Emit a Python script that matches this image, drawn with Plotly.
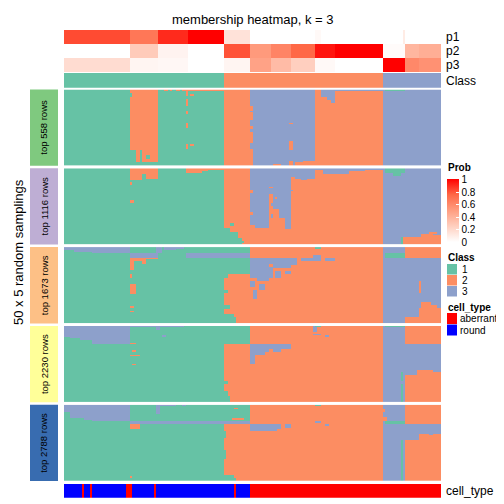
import plotly.graph_objects as go

N = 188
# ---------------- annotation data (run-length: (n_columns, value)) ----------------
p1_runs = [(33, 0.82), (14, 0.68), (15, 0.9), (18, 1.0), (13, 0.15), (32, 0.0), (3, 0.03), (41, 0.0), (1, 0.1), (18, 0.0)]
p2_runs = [(33, 0.0), (14, 0.27), (15, 0.06), (18, 0.0), (13, 0.8), (10, 0.52), (10, 0.62), (12, 0.75), (10, 0.95), (24, 1.0), (11, 0.02), (7, 0.38), (11, 0.42)]
p3_runs = [(33, 0.18), (14, 0.05), (15, 0.04), (18, 0.0), (13, 0.05), (10, 0.48), (10, 0.35), (12, 0.25), (10, 0.03), (24, 0.0), (11, 1.0), (7, 0.6), (11, 0.56)]
class_runs = [(80, 1), (79, 2), (29, 3)]
# cell type: 0 = aberrant, 1 = round
cell_runs = [(9, 1), (1, 0), (3, 1), (1, 0), (17, 1), (3, 0), (11, 1), (1, 0), (39, 1), (1, 0), (7, 1), (95, 0)]

prob_names = ["p1", "p2", "p3"]
class_names = ["1", "2", "3"]
cell_names = ["aberrant", "round"]
panel_names = ["top 558 rows", "top 1116 rows", "top 1673 rows", "top 2230 rows", "top 2788 rows"]
n_samplings = 50

# ---------------- membership panels: base column blocks + patches ----------------
# base: (col_start, col_end, class) ; patches: (col_start, col_end, row_start, row_end, class)
panel_base = [
    [(0, 33, 1), (33, 47, 2), (47, 80, 1), (80, 93, 2), (93, 125, 3), (125, 159, 2), (159, 188, 3)],
    [(0, 80, 1), (80, 93, 2), (93, 113, 3), (113, 159, 2), (159, 188, 3)],
    [(0, 80, 1), (80, 93, 2), (93, 159, 2), (159, 170, 3), (170, 188, 2)],
    [(0, 80, 1), (80, 93, 2), (93, 159, 2), (159, 170, 3), (170, 188, 2)],
    [(0, 80, 1), (80, 93, 2), (93, 159, 2), (159, 170, 3), (170, 188, 2)],
]
panel_patches = [
    [  # top 558
        (33, 36, 40, 50, 1), (38, 39, 40, 50, 1), (35, 47, 48, 50, 1), (41, 43, 43, 46, 1), (33, 34, 2, 5, 1),
        (50, 52, 0, 1, 2), (53, 54, 0, 1, 2), (56, 58, 0, 1, 2), (59, 80, 0, 1, 2),
        (61, 62, 0, 4, 2), (61, 62, 6, 11, 2), (61, 62, 14, 16, 2), (61, 62, 22, 25, 2), (61, 62, 36, 39, 2),
        (63, 65, 3, 4, 2), (63, 65, 36, 37, 2),
        (93, 94, 11, 14, 2), (93, 94, 15, 20, 2), (93, 94, 24, 26, 2), (93, 94, 28, 35, 2), (93, 94, 39, 50, 2),
        (112, 114, 22, 23, 2), (112, 114, 34, 40, 2), (112, 114, 47, 50, 2),
        (104, 108, 49, 50, 2), (115, 119, 48, 50, 2), (119, 125, 47, 50, 2),
        (128, 131, 0, 5, 3), (131, 133, 0, 7, 3), (133, 135, 0, 9, 3), (135, 159, 0, 1, 3),
        (160, 170, 0, 1, 1),
    ],
    [  # top 1116
        (33, 39, 0, 8, 2), (39, 41, 0, 4, 2), (41, 47, 0, 7, 2), (33, 34, 9, 11, 2), (33, 35, 21, 23, 2),
        (61, 69, 0, 3, 2), (69, 72, 0, 2, 2), (72, 80, 0, 1, 2),
        (80, 83, 39, 50, 1), (83, 87, 42, 50, 1), (87, 89, 46, 50, 1), (83, 85, 36, 38, 1), (89, 90, 48, 49, 1),
        (93, 95, 37, 50, 2), (95, 102, 39, 50, 2), (93, 94, 14, 16, 2), (93, 94, 29, 31, 2),
        (102, 104, 17, 50, 2), (102, 104, 12, 13, 2), (104, 107, 27, 50, 2), (105, 106, 19, 20, 2),
        (107, 110, 33, 50, 2), (110, 113, 40, 50, 2), (103, 104, 23, 25, 3), (103, 104, 30, 33, 3),
        (113, 159, 0, 1, 3), (113, 115, 1, 6, 3), (115, 125, 1, 7, 3), (118, 121, 7, 8, 3), (113, 114, 14, 15, 3),
        (125, 159, 0, 1, 3), (129, 142, 0, 4, 3), (142, 150, 0, 2, 3),
        (160, 170, 0, 3, 1), (164, 168, 3, 5, 1),
        (169, 184, 45, 50, 2), (184, 188, 44, 50, 2), (178, 184, 43, 45, 2), (182, 186, 42, 43, 2), (168, 169, 45, 50, 1),
    ],
    [  # top 1673
        (0, 5, 0, 2, 3), (5, 14, 0, 3, 3), (14, 33, 0, 4, 3),
        (33, 47, 4, 7, 3), (61, 93, 4, 7, 3), (46, 49, 0, 4, 3), (50, 56, 0, 2, 3), (56, 60, 0, 1, 3),
        (33, 39, 7, 9, 2), (39, 41, 7, 11, 2), (41, 47, 7, 8, 2), (33, 35, 7, 15, 2),
        (33, 34, 18, 20, 2), (33, 36, 24, 31, 2), (33, 35, 39, 40, 2), (33, 35, 42, 43, 2),
        (80, 93, 0, 4, 1), (80, 93, 7, 18, 1), (80, 82, 18, 20, 1), (80, 82, 28, 30, 1), (80, 83, 38, 41, 1),
        (80, 85, 44, 50, 1), (85, 86, 46, 50, 1),
        (93, 96, 7, 20, 3), (93, 95, 22, 26, 3), (94, 96, 28, 34, 3), (96, 102, 7, 22, 3), (97, 100, 24, 28, 3),
        (102, 104, 7, 11, 3), (102, 104, 13, 20, 3), (104, 113, 7, 14, 3), (105, 108, 16, 20, 3),
        (110, 113, 16, 18, 3), (113, 115, 7, 12, 3),
        (114, 116, 7, 12, 3), (118, 125, 7, 9, 3), (124, 128, 5, 9, 3), (130, 135, 7, 9, 3), (125, 128, 0, 1, 1),
        (160, 170, 4, 7, 1),
        (170, 177, 7, 46, 3), (177, 178, 7, 22, 3), (177, 178, 30, 40, 3), (178, 183, 7, 36, 3),
        (183, 186, 7, 38, 3), (186, 188, 7, 40, 3),
    ],
    [  # top 2230
        (0, 3, 0, 7, 3), (3, 8, 0, 8, 3), (8, 14, 0, 9, 3), (14, 33, 0, 12, 3),
        (33, 47, 0, 1, 3), (46, 48, 0, 3, 3), (48, 60, 0, 1, 3), (49, 51, 6, 7, 3),
        (33, 36, 11, 12, 2), (34, 36, 16, 17, 2), (33, 38, 19, 20, 2), (34, 36, 25, 26, 2),
        (80, 93, 0, 12, 1), (80, 82, 36, 38, 1), (80, 82, 43, 50, 1), (82, 83, 46, 50, 1),
        (93, 95, 12, 25, 3), (95, 100, 12, 19, 3), (100, 102, 12, 17, 3), (102, 104, 12, 15, 3),
        (104, 108, 12, 17, 3), (108, 113, 12, 15, 3),
        (124, 126, 0, 4, 3), (124, 128, 5, 6, 3), (130, 132, 6, 7, 3), (125, 128, 0, 1, 1),
        (160, 170, 0, 1, 1), (168, 169, 30, 36, 1), (168, 169, 38, 50, 1),
        (170, 176, 12, 32, 3), (176, 184, 12, 29, 3), (184, 188, 12, 30, 3),
    ],
    [  # top 2788
        (0, 3, 0, 5, 3), (3, 10, 0, 9, 3), (10, 14, 0, 10, 3), (14, 33, 0, 11, 3),
        (46, 48, 0, 6, 3), (48, 56, 0, 1, 3), (59, 61, 0, 1, 3), (33, 93, 11, 13, 3),
        (33, 38, 13, 16, 2), (33, 34, 47, 48, 2),
        (80, 93, 0, 11, 1), (85, 87, 2, 3, 2), (84, 90, 9, 10, 2),
        (80, 81, 17, 22, 1), (80, 81, 30, 36, 1), (80, 85, 46, 50, 1), (85, 86, 48, 50, 1),
        (93, 106, 13, 17, 3), (106, 108, 13, 16, 3), (110, 113, 13, 15, 3),
        (125, 128, 11, 12, 3), (130, 132, 13, 14, 3), (125, 128, 0, 1, 1),
        (159, 160, 3, 5, 2), (159, 161, 8, 11, 2), (160, 170, 11, 13, 1), (168, 169, 23, 50, 1),
        (170, 177, 13, 23, 3), (177, 188, 13, 19, 3), (182, 184, 19, 20, 3),
    ],
]

# ---------------- colours ----------------
class_colors = ["#66C2A5", "#FC8D62", "#8DA0CB"]
cell_colors = ["#FF0000", "#0000FF"]
panel_label_colors = ["#7FC97F", "#BEAED4", "#FDC086", "#FFFF99", "#386CB0"]
prob_scale = [[0, "#FFFFFF"], [0.25, "#FFCFBF"], [0.5, "#FF9E81"], [0.75, "#FF6846"], [1, "#FF0000"]]
class_scale = [[0, class_colors[0]], [1 / 3, class_colors[0]], [1 / 3, class_colors[1]],
               [2 / 3, class_colors[1]], [2 / 3, class_colors[2]], [1, class_colors[2]]]
cell_scale = [[0, cell_colors[0]], [0.5, cell_colors[0]], [0.5, cell_colors[1]], [1, cell_colors[1]]]


def expand(runs):
    out = []
    for n, v in runs:
        out += [v] * n
    return out


def build_panel(base, patches):
    m = [[0] * N for _ in range(n_samplings)]
    for c0, c1, cl in base:
        for r in range(n_samplings):
            for c in range(c0, c1):
                m[r][c] = cl
    for c0, c1, r0, r1, cl in patches:
        for r in range(r0, r1):
            for c in range(c0, c1):
                m[r][c] = cl
    return m


# the page body has an 8px margin: figure is 496x496 and placed at (8, 8)
OFF = 8.0
W = H = 496.0


def PX(x):
    return (x - OFF) / W


def PY(y):
    return 1 - (y - OFF) / H


def px_dom(top, bottom):
    return [PY(bottom), PY(top)]


X0, X1 = 64, 441
fig = go.Figure()
cols = list(range(N))

# probability rows
fig.add_trace(go.Heatmap(
    z=[expand(p1_runs), expand(p2_runs), expand(p3_runs)], x=cols, y=prob_names,
    colorscale=prob_scale, zmin=0, zmax=1, xaxis="x", yaxis="y",
    colorbar=dict(x=PX(447), xanchor="left", y=PY(179.5), yanchor="top", len=62.5 / H,
                  lenmode="fraction", thickness=12, outlinewidth=0, xpad=0, ypad=0,
                  tickvals=[0, 0.2, 0.4, 0.6, 0.8, 1], ticktext=["0", "0.2", "0.4", "0.6", "0.8", "1"],
                  ticks="inside", tickcolor="white", ticklen=3,
                  tickfont=dict(size=10, color="black", family="Liberation Sans, Arial")),
    hoverinfo="skip"))

# class row
fig.add_trace(go.Heatmap(z=[expand(class_runs)], x=cols, y=["Class"], colorscale=class_scale,
                         zmin=0.5, zmax=3.5, showscale=False, xaxis="x", yaxis="y2", hoverinfo="skip"))

# panels
panel_tops = [89.5, 168.3, 247.1, 325.9, 404.7]
panel_h = 76.3
for i in range(5):
    m = build_panel(panel_base[i], panel_patches[i])
    fig.add_trace(go.Heatmap(z=m, x=cols, y=list(range(n_samplings)), colorscale=class_scale,
                             zmin=0.5, zmax=3.5, showscale=False, xaxis="x", yaxis=f"y{i + 3}",
                             hoverinfo="skip"))

# cell type row
fig.add_trace(go.Heatmap(z=[expand(cell_runs)], x=cols, y=["cell_type"], colorscale=cell_scale,
                         zmin=-0.5, zmax=1.5, showscale=False, xaxis="x", yaxis="y8", hoverinfo="skip"))

layout = dict(
    width=int(W), height=int(H), margin=dict(l=0, r=0, t=0, b=0),
    paper_bgcolor="white", plot_bgcolor="white", showlegend=False,
    font=dict(family="Liberation Sans, Arial", color="black"),
    xaxis=dict(domain=[PX(X0), PX(X1)], range=[-0.5, N - 0.5], visible=False, anchor="y8", fixedrange=True),
)
ydoms = [px_dom(30, 72), px_dom(73, 87.7)] + [px_dom(t, t + panel_h) for t in panel_tops] + [px_dom(484, 497.7)]
for k, d in enumerate(ydoms):
    name = "yaxis" if k == 0 else f"yaxis{k + 1}"
    layout[name] = dict(domain=d, visible=False, anchor="x", autorange="reversed", fixedrange=True)
fig.update_layout(**layout)

shapes = []
ann = []


def text(x, y, s, size=12, xanchor="left", bold=False, angle=0):
    ann.append(dict(x=PX(x), y=PY(y), xref="paper", yref="paper", text=f"<b>{s}</b>" if bold else s,
                    showarrow=False, xanchor=xanchor, yanchor="middle", textangle=angle,
                    font=dict(size=size, color="black", family="Liberation Sans, Arial")))


def rect(x0, y0, x1, y1, color):
    shapes.append(dict(type="rect", xref="paper", yref="paper", x0=PX(x0), x1=PX(x1),
                       y0=PY(y1), y1=PY(y0), fillcolor=color, line=dict(width=0), layer="above"))


# title
text(252.5, 19, "membership heatmap, k = 3", size=13, xanchor="center")
# right row labels
for nm, yy in zip(prob_names, [37, 51, 65]):
    text(444, yy, nm, size=12)
text(444, 80.5, "Class", size=12)
text(444, 491, "cell_type", size=12)

# left panel labels
for i in range(5):
    t = panel_tops[i]
    rect(30, t, 58, t + panel_h, panel_label_colors[i])
    text(44, t + panel_h / 2, panel_names[i], size=9.5, xanchor="center", angle=-90)
text(18, 252, "50 x 5 random samplings", size=13, xanchor="center", angle=-90)

# legends
text(446, 168, "Prob", size=10, bold=True)
text(446, 257, "Class", size=10, bold=True)
for j, nm in enumerate(class_names):
    y0 = 264 + j * 11
    rect(447, y0, 457, y0 + 10.5, class_colors[j])
    text(460, y0 + 5.5, nm, size=10)
text(446, 307, "cell_type", size=10, bold=True)
for j, nm in enumerate(cell_names):
    y0 = 313 + j * 11.5
    rect(447, y0, 457, y0 + 11, cell_colors[j])
    text(458, y0 + 5.5, nm, size=10)

fig.update_layout(shapes=shapes, annotations=ann)
fig.write_html("out.html")
